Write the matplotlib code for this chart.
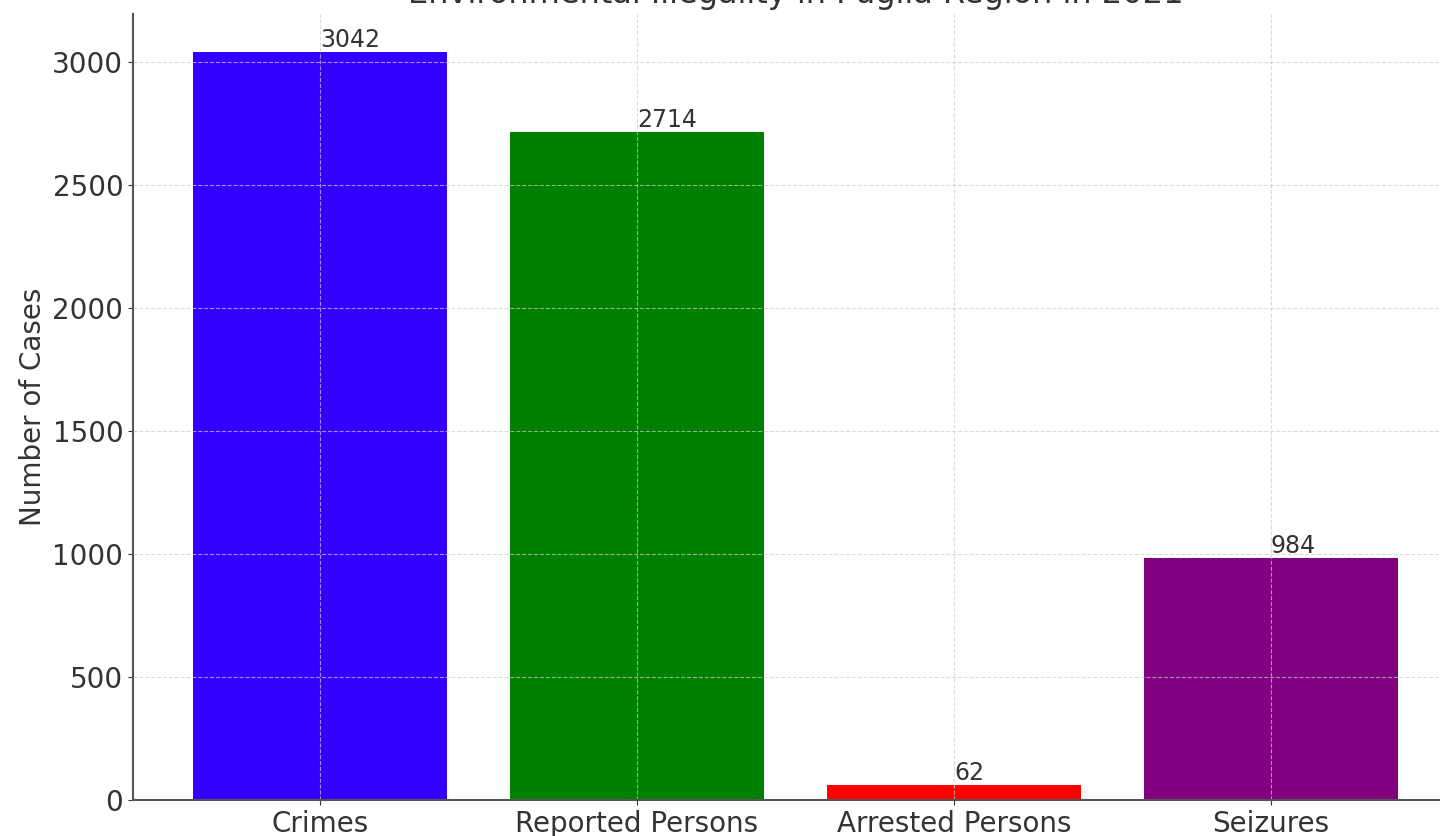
import matplotlib.pyplot as plt

categories = ["Crimes", "Reported Persons", "Arrested Persons", "Seizures"]
values = [3042, 2714, 62, 984]
colors = ["#3300ff", "green", "red", "purple"]

fig = plt.figure(figsize=(14.4, 8.36), dpi=100)
ax = fig.add_axes([0.0924, 0.0431, 0.920, 0.940])

bars = ax.bar(categories, values, color=colors, width=0.8)
for bar, v in zip(bars, values):
    ax.text(bar.get_x() + bar.get_width() / 2, v, str(v), ha="left", va="bottom",
            fontsize=17, color="#333333")

ax.set_title("Environmental Illegality in Puglia Region in 2021", fontsize=23,
             color="#333333", pad=8)
ax.set_ylabel("Number of Cases", fontsize=20, color="#333333")
ax.tick_params(axis="both", labelsize=20, colors="#333333")
ax.grid(True, linestyle="--", color="#cccccc", alpha=0.7)
ax.spines[["top", "right"]].set_visible(False)
ax.spines[["left", "bottom"]].set_color("#555555")
ax.spines[["left", "bottom"]].set_linewidth(1.5)

fig.savefig("out.png", dpi=100)
